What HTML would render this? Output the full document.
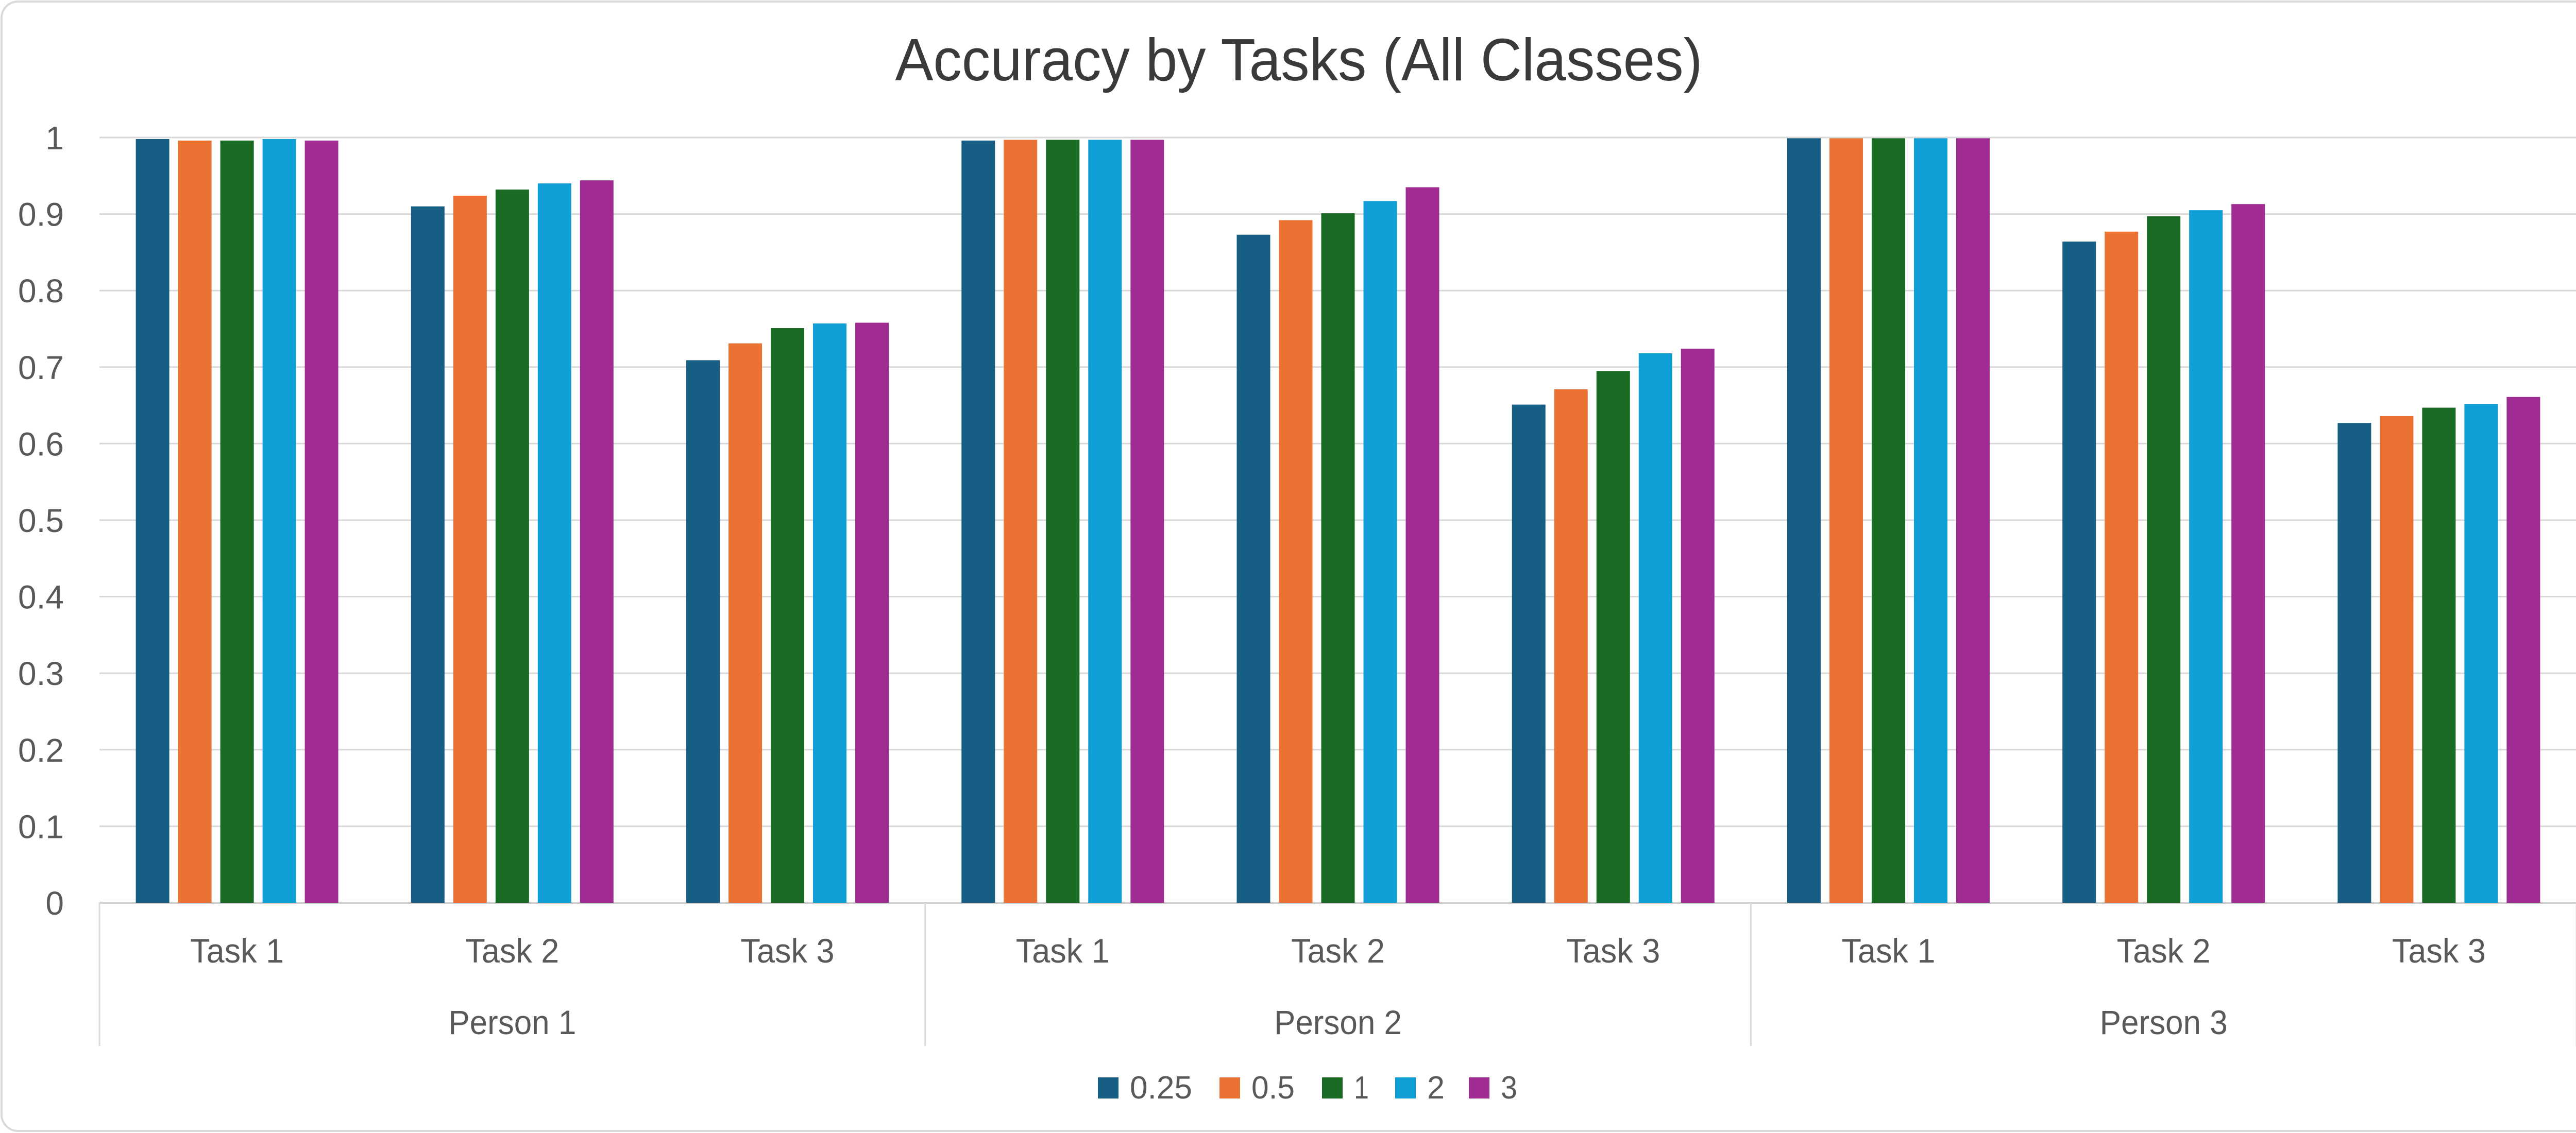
<!DOCTYPE html>
<html><head><meta charset="utf-8"><style>
html,body{margin:0;padding:0;background:#fff;}
svg{display:block;font-family:"Liberation Sans",sans-serif;}
</style></head><body>
<svg id="chart" width="5053" height="2200" viewBox="0 0 5053 2200" xmlns="http://www.w3.org/2000/svg">
<rect x="3" y="3" width="5047" height="2193" rx="32" fill="#fff" stroke="#d9d9d9" stroke-width="4"/>
<text x="2521" y="156" text-anchor="middle" font-size="116" fill="#3a3a3a" textLength="1567" lengthAdjust="spacingAndGlyphs">Accuracy by Tasks (All Classes)</text>
<g id="grid"></g>
<g id="yticks"></g>
<g id="bars"></g>
<g id="xaxis"></g>
<g id="legend"></g>
</svg>
<script>
const persons = ["Person 1","Person 2","Person 3"];
const tasks = ["Task 1","Task 2","Task 3"];
const seriesNames = ["0.25","0.5","1","2","3"];
const seriesColors = ["#165e83","#e97132","#196b24","#0f9ed5","#a02b93"];
const s025 = [0.998,0.910,0.709, 0.996,0.873,0.651, 0.999,0.864,0.627];
const s05  = [0.996,0.924,0.731, 0.997,0.892,0.671, 0.999,0.877,0.636];
const s1   = [0.996,0.932,0.751, 0.997,0.901,0.695, 0.999,0.897,0.647];
const s2   = [0.998,0.940,0.757, 0.997,0.917,0.718, 0.999,0.905,0.652];
const s3   = [0.996,0.944,0.758, 0.997,0.935,0.724, 0.999,0.913,0.661];
const yTicks = ["0","0.1","0.2","0.3","0.4","0.5","0.6","0.7","0.8","0.9","1"];

const NS="http://www.w3.org/2000/svg";
const series=[s025,s05,s1,s2,s3];
const plotL=193, plotR=5001, y0px=1753, y1px=267;
const catW=(plotR-plotL)/9;
function yScale(v){return y0px-(y0px-y1px)*v;}
function catX(i){return plotL+catW*i;}
function mk(tag,attrs,parent){const e=document.createElementNS(NS,tag);for(const k in attrs)e.setAttribute(k,attrs[k]);parent.appendChild(e);return e;}

const grid=document.getElementById('grid');
const yt=document.getElementById('yticks');
yTicks.forEach(function(t){
  const v=parseFloat(t);
  const y=yScale(v);
  const l=mk('line',{x1:plotL,x2:plotR,y1:y,y2:y,stroke:v===0?'#d0d0d0':'#d9d9d9','stroke-width':v===0?4:3},grid);
  
  
  const tx=mk('text',{x:124,y:y+23,'text-anchor':'end','font-size':64,fill:'#595959'},yt);
  
  
  tx.textContent=t;
});

const bars=document.getElementById('bars');
const barW=65, pitch=82;
const groupW=4*pitch+barW;
for(let c=0;c<9;c++){
  const start=catX(c)+catW/2-groupW/2;
  series.forEach(function(s,k){
    const yv=yScale(s[c]);
    const r=mk('rect',{x:start+k*pitch,y:yv,width:barW,height:y0px-yv,fill:seriesColors[k]},bars);
    
    
  });
}

const xa=document.getElementById('xaxis');
for(let p=0;p<=3;p++){
  const x=catX(p*3);
  const l=mk('line',{x1:x,x2:x,y1:y0px,y2:2031,stroke:'#d9d9d9','stroke-width':3},xa);
  
  
}
for(let c=0;c<9;c++){
  const t=mk('text',{x:catX(c)+catW/2,y:1869,'text-anchor':'middle','font-size':66,fill:'#595959',textLength:182,lengthAdjust:'spacingAndGlyphs'},xa);
  
  
  t.textContent=tasks[c%3];
}
persons.forEach(function(p,i){
  const t=mk('text',{x:catX(i*3)+catW*1.5,y:2008,'text-anchor':'middle','font-size':66,fill:'#595959',textLength:248,lengthAdjust:'spacingAndGlyphs'},xa);
  
  
  t.textContent=p;
});

const lg=document.getElementById('legend');
const lgX=[2131,2367,2566,2708,2851];
const lgW=[121,84,29,34,32];
seriesNames.forEach(function(n,k){
  const r=mk('rect',{x:lgX[k],y:2092,width:40,height:41,fill:seriesColors[k]},lg);
  
  
  const t=mk('text',{x:lgX[k]+62,y:2133,'font-size':62,fill:'#595959',textLength:lgW[k],lengthAdjust:'spacingAndGlyphs'},lg);
  
  
  t.textContent=n;
});
</script>
</body></html>
